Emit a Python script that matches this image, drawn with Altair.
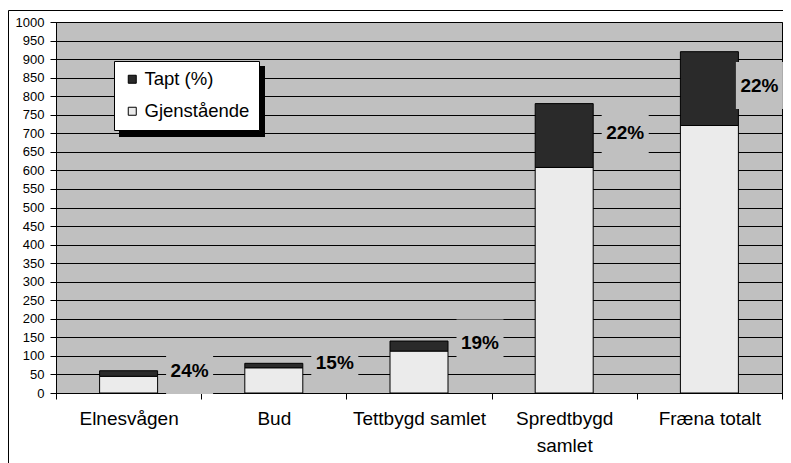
import altair as alt
import pandas as pd

categories = ["Elnesvågen", "Bud", "Tettbygd samlet", "Spredtbygd samlet", "Fræna totalt"]
gjenstaende = [45, 68, 113, 608, 721]
tapt = [15, 12, 27, 172, 199]
pct_labels = ["24%", "15%", "19%", "22%", "22%"]
series = ["Tapt (%)", "Gjenstående"]
y_ticks = list(range(0, 1001, 50))

FONT = "Liberation Sans"

rows = []
for c, g, t in zip(categories, gjenstaende, tapt):
    rows.append({"kategori": c, "serie": "Gjenstående", "verdi": g, "ord": 0})
    rows.append({"kategori": c, "serie": "Tapt (%)", "verdi": t, "ord": 1})
bars_df = pd.DataFrame(rows)

lab_df = pd.DataFrame({
    "kategori": categories,
    "mid": [g + t / 2 for g, t in zip(gjenstaende, tapt)],
    "label": pct_labels,
})
one = pd.DataFrame({"a": [0]})

x_scale = alt.Scale(domain=categories, paddingInner=0, paddingOuter=0)
x_axis = alt.Axis(
    title=None, labelAngle=0, tickBand="extent", domainColor="black",
    tickColor="black", tickSize=6, labelFontSize=19, labelFont=FONT,
    labelColor="black", labelPadding=10, labelLineHeight=27,
    labelExpr="datum.label == 'Spredtbygd samlet' ? ['Spredtbygd', 'samlet'] : datum.label",
    grid=False, labelLimit=300,
)
y_scale = alt.Scale(domain=[0, 1000], nice=False)
y_axis = alt.Axis(
    title=None, values=y_ticks, format="d", grid=True, gridColor="black",
    gridOpacity=1, gridWidth=1, domainColor="black", tickColor="black",
    tickSize=6, labelFontSize=13, labelFont=FONT, labelColor="black",
    labelPadding=6,
)

bars = alt.Chart(bars_df).mark_bar(width=58, stroke="black", strokeWidth=1).encode(
    x=alt.X("kategori:N", sort=categories, scale=x_scale, axis=x_axis),
    y=alt.Y("verdi:Q", stack="zero", scale=y_scale, axis=y_axis),
    color=alt.Color(
        "serie:N",
        scale=alt.Scale(domain=series, range=["#2a2a2a", "#ebebeb"]),
        legend=alt.Legend(
            title=None, orient="none", legendX=58, legendY=39,
            fillColor="white", strokeColor="black",
            padding=9, symbolType="square", symbolSize=64,
            symbolStrokeColor="black", symbolStrokeWidth=1,
            labelFontSize=18.5, labelFont=FONT, labelColor="black",
            labelOffset=3, rowPadding=13,
        ),
    ),
    order=alt.Order("ord:Q"),
)

border = alt.Chart(one).mark_rect(fill=None, stroke="black", strokeWidth=1).encode(
    x=alt.value(-47.5), x2=alt.value(800), y=alt.value(-11.5), y2=alt.value(600)
)

shadow = alt.Chart(one).mark_rect(fill="black").encode(
    x=alt.value(63), x2=alt.value(209), y=alt.value(44), y2=alt.value(115)
)

main_labels = lab_df[lab_df["kategori"] != "Fræna totalt"]
last_label = lab_df[lab_df["kategori"] == "Fræna totalt"]

def label_layers(df, off):
    xe = alt.X("kategori:N", sort=categories, scale=x_scale, axis=x_axis)
    ye = alt.Y("mid:Q", scale=y_scale, axis=y_axis)
    box = alt.Chart(df).mark_point(
        shape="square", size=2209, filled=True, color="#c0c0c0", opacity=1,
        xOffset=off, yOffset=-3,
    ).encode(x=xe, y=ye)
    txt = alt.Chart(df).mark_text(
        fontSize=19, fontWeight="bold", font=FONT, color="black",
        dx=off, dy=-3, align="center", baseline="middle",
    ).encode(x=xe, y=ye, text="label:N")
    return [box, txt]

layers = [border, bars, shadow] + label_layers(main_labels, 61) + label_layers(last_label, 50)

chart = alt.layer(*layers).properties(
    width=726, height=371,
    autosize=alt.AutoSizeParams(type="none"),
    padding={"left": 48, "top": 14, "right": 1, "bottom": 70},
    background="white",
).configure_view(
    fill="#c0c0c0", stroke="black", strokeWidth=1,
).configure_legend(strokeWidth=1)

chart.save("out.html", embed_options={"renderer": "svg", "actions": False})
